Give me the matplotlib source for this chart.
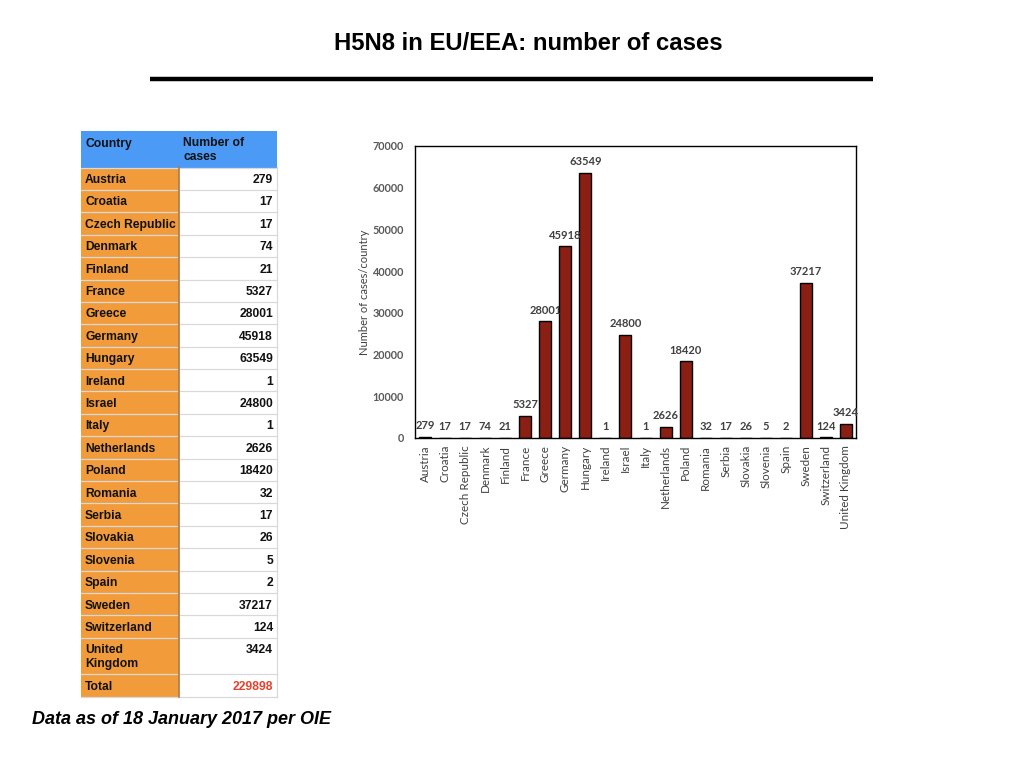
import matplotlib.pyplot as plt
from matplotlib.patches import Rectangle

# data
countries = [
    'Austria', 'Croatia', 'Czech Republic', 'Denmark', 'Finland', 'France',
    'Greece', 'Germany', 'Hungary', 'Ireland', 'Israel', 'Italy',
    'Netherlands', 'Poland', 'Romania', 'Serbia', 'Slovakia', 'Slovenia',
    'Spain', 'Sweden', 'Switzerland', 'United Kingdom'
]
cases = [
    279, 17, 17, 74, 21, 5327,
    28001, 45918, 63549, 1, 24800, 1,
    2626, 18420, 32, 17, 26, 5,
    2, 37217, 124, 3424
]
y_ticks = [0, 10000, 20000, 30000, 40000, 50000, 60000, 70000]

title = 'H5N8 in EU/EEA: number of cases'
footer = 'Data as of 18 January 2017 per OIE'

BLUE = '#4A9AF6'
ORANGE = '#F19B3B'
BAR = '#8B1F14'
GREY_TXT = '#595959'

fig = plt.figure(figsize=(10.24, 7.68), dpi=100)

# overlay in pixel coordinates for title, table and footer
ov = fig.add_axes([0, 0, 1, 1])
ov.set_xlim(0, 1024)
ov.set_ylim(768, 0)
ov.axis('off')

ov.text(528, 43, title, ha='center', va='center', fontsize=17.2,
        fontweight='bold', family='Liberation Sans')
ov.plot([150, 873], [79, 79], color='black', lw=3.2, solid_capstyle='butt')

# table
x0, x1, x2 = 81, 179, 277
row_h = 22.4
rows = [('Country', 'Number of\ncases', 'header')]
for c, v in zip(countries, cases):
    rows.append((c.replace('United ', 'United\n'), str(v), 'body'))
rows.append(('Total', str(sum(cases)), 'total'))

fs = 8.7
y = 131
for name, val, kind in rows:
    h = 36.5 if '\n' in name or '\n' in val else row_h
    if kind == 'header':
        ov.add_patch(Rectangle((x0, y), x2 - x0, h, fc=BLUE, ec='none'))
    else:
        ov.add_patch(Rectangle((x0, y), x1 - x0, h, fc=ORANGE, ec='none'))
        ov.add_patch(Rectangle((x1, y), x2 - x1, h, fc='white', ec='none'))
        ov.plot([x0, x2], [y, y], color='#D9D9D9', lw=0.9)
    ov.text(x0 + 4, y + 6.5, name, ha='left', va='top', fontsize=fs,
            fontweight='bold', family='Liberation Sans', linespacing=1.15,
            color='#111111')
    if kind == 'header':
        ov.text(x1 + 4, y + 6.5, val, ha='left', va='top', fontsize=fs,
                fontweight='bold', family='Liberation Sans', linespacing=1.15,
                color='#111111')
    else:
        ov.text(x2 - 4, y + 6.5, val, ha='right', va='top', fontsize=fs,
                fontweight='bold', family='Liberation Sans',
                color='#E8412F' if kind == 'total' else '#111111')
    y += h
ov.plot([x0, x2], [y, y], color='#D9D9D9', lw=0.9)
ov.plot([x1 - 0.5, x1 - 0.5], [167, y], color='#A77B4E', lw=1.2)
ov.plot([x2, x2], [167, y], color='#D9D9D9', lw=0.9)

ov.text(32, 719, footer, ha='left', va='center', fontsize=13,
        fontweight='bold', style='italic', family='Liberation Sans')

# bar chart
ax = fig.add_axes([415 / 1024, (768 - 438) / 768, 441 / 1024, 292 / 768])
pos = range(len(countries))
bars = ax.bar(pos, cases, width=0.6, color=BAR, edgecolor='black', lw=1)
ax.set_xlim(-0.5, len(countries) - 0.5)
ax.set_ylim(0, 70000)
ax.set_yticks(y_ticks)
ax.set_yticklabels([str(t) for t in y_ticks], fontsize=7.8, fontweight='bold',
                   color=GREY_TXT, family='Lato')
ax.set_xticks(list(pos))
ax.set_xticklabels(countries, rotation=90, fontsize=8.4, color='#404040',
                   family='Lato')
ax.tick_params(axis='both', length=0)
ax.tick_params(axis='y', pad=8)
ax.tick_params(axis='x', pad=5)
for s in ax.spines.values():
    s.set_linewidth(1)
ax.set_ylabel('Number of cases/country', fontsize=8, color='#404040',
              family='Lato')
ax.yaxis.set_label_coords(-0.102, 0.5)
for b, v in zip(bars, cases):
    ax.annotate(str(v), (b.get_x() + b.get_width() / 2, v), xytext=(0, 4),
                textcoords='offset points', ha='center', va='bottom',
                fontsize=8, fontweight='bold', color='#404040', family='Lato')

fig.savefig('out.png', dpi=100)
